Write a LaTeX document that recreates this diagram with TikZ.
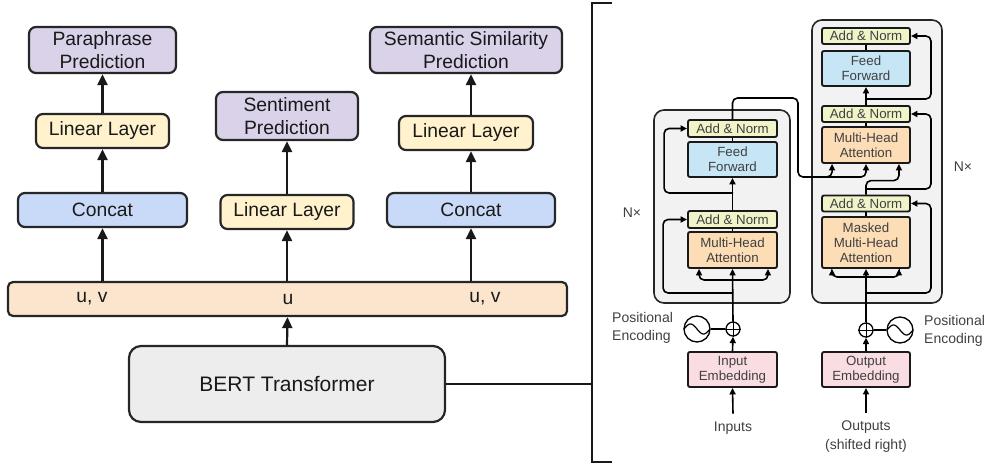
\documentclass[tikz,border=0pt]{standalone}
\usepackage{fontspec}
\setmainfont{Liberation Sans}
\usetikzlibrary{arrows.meta,calc}
\definecolor{cpurple}{HTML}{D9D2E9}
\definecolor{cyellow}{HTML}{FFF2CC}
\definecolor{cblue}{HTML}{C9DAF8}
\definecolor{corange}{HTML}{FCE5CD}
\definecolor{cgray}{HTML}{EDEDED}
\definecolor{cbg}{HTML}{F2F2F2}
\definecolor{can}{HTML}{F0F4C8}
\definecolor{cff}{HTML}{C6E6F5}
\definecolor{cmha}{HTML}{FCDDB6}
\definecolor{cemb}{HTML}{FADDE2}
\definecolor{ctxt}{HTML}{404040}
\begin{document}
\begin{tikzpicture}[x=1pt,y=-1pt,
  lbox/.style={draw=black!85, line width=2.2pt, rounded corners=7pt, inner sep=0pt, align=center,
    font=\fontsize{19.3}{22.5}\selectfont, text=black!90},
  larr/.style={-{Triangle[length=11pt,width=10pt]}, line width=2.2pt, draw=black!90},
  tbox/.style={draw=black!90, line width=1.9pt, rounded corners=2pt, inner sep=0pt, align=center,
    font=\fontsize{13.3}{15}\selectfont, text=ctxt},
  tarr/.style={-{Triangle[length=6.5pt,width=6pt]}, line width=1.6pt},
  tln/.style={line width=1.6pt},
  tline/.style={line width=1.6pt, rounded corners=5pt},
  tlab/.style={font=\fontsize{14}{18}\selectfont, text=ctxt, inner sep=0pt},
  uvt/.style={font=\fontsize{19.3}{22}\selectfont, text=black!90, inner sep=0pt},
]
\useasboundingbox (0,0) rectangle (988,466);

% ---------------- left part ----------------
\node[lbox, fill=cpurple, minimum width=147pt, minimum height=46pt] (para) at (102.5,50) {Paraphrase\\Prediction};
\node[lbox, fill=cyellow, minimum width=133pt, minimum height=34pt] (linL) at (102.5,131) {Linear Layer};
\node[lbox, fill=cblue, minimum width=169pt, minimum height=34pt] (catL) at (102.5,210) {Concat};
\node[lbox, fill=cpurple, minimum width=142pt, minimum height=48pt] (sent) at (287,116) {Sentiment\\Prediction};
\node[lbox, fill=cyellow, minimum width=133pt, minimum height=34pt] (linM) at (287,212) {Linear Layer};
\node[lbox, fill=cpurple, minimum width=192pt, minimum height=46pt] (sem) at (466,50) {Semantic Similarity\\Prediction};
\node[lbox, fill=cyellow, minimum width=134pt, minimum height=34pt] (linR) at (466,133) {Linear Layer};
\node[lbox, fill=cblue, minimum width=168pt, minimum height=34pt] (catR) at (471,210) {Concat};
\node[lbox, fill=corange, minimum width=559pt, minimum height=34pt, rounded corners=5pt] (bar) at (287.5,299) {};
\node[uvt] (uv1) at (92,299) {u, v};
\node[uvt] (u2) at (288,299) {u};
\node[uvt] (uv3) at (485,299) {u, v};
\node[lbox, fill=cgray, minimum width=316pt, minimum height=76pt, rounded corners=12pt,
  font=\fontsize{21}{24}\selectfont] (bert) at (287,384) {BERT Transformer};

\draw[larr] (bar.north -| catL.south) -- (catL.south);
\draw[larr] (catL.north) -- (linL.south);
\draw[larr] (linL.north) -- (para.south);
\draw[larr] (bar.north -| linM.south) -- (linM.south);
\draw[larr] (linM.north) -- (sent.south);
\draw[larr] (bar.north -| catR.south) -- (catR.south);
\draw[larr] (catR.north) -- (catR.north |- linR.south);
\draw[larr] (catR.north |- linR.north) -- (catR.north |- sem.south);
\draw[larr] (bert.north) -- (bar.south);
\coordinate (brk) at (592,384);
\coordinate (brkT) at (612,3);
\coordinate (brkB) at (612,462);
\draw[line width=2.2pt, black!90] (bert.east) -- (brk);
\draw[line width=2.2pt, black!90] (brkT) -- (592,3) -- (592,462) -- (brkB);

% ---------------- encoder ----------------
\node[draw=black!85, line width=1.6pt, fill=cbg, rounded corners=10pt, minimum width=136pt,
  minimum height=193pt, inner sep=0pt] (encbox) at (722,206.5) {};
\node[tbox, fill=can, minimum width=89pt, minimum height=17pt] (eAN2) at (732.5,128.5) {Add \& Norm};
\node[tbox, fill=cff, minimum width=89pt, minimum height=35pt] (eFF) at (732.5,159.5) {Feed\\Forward};
\node[tbox, fill=can, minimum width=89pt, minimum height=17pt] (eAN1) at (732.5,219.5) {Add \& Norm};
\node[tbox, fill=cmha, minimum width=89pt, minimum height=36pt] (eMHA) at (732.5,250) {Multi-Head\\Attention};
\node[tbox, fill=cemb, minimum width=89pt, minimum height=35pt] (eEmb) at (732.5,369.5) {Input\\Embedding};
\node[circle, draw, line width=1.3pt, minimum size=14pt, inner sep=0pt] (eplus) at (733,329) {};
\draw[line width=1pt] (eplus.north) -- (eplus.south) (eplus.west) -- (eplus.east);
\node[circle, draw, line width=1.3pt, minimum size=26pt, inner sep=0pt] (esin) at (697,329) {};
\draw[line width=1.2pt, shift={(esin.center)}] plot[domain=-1:1, samples=40, smooth] ({\x*13},{-5*sin((\x+1)*180)});
\node[tlab, anchor=west, align=left] (peL) at (612,328) {Positional\\Encoding};
\node[tlab] (inputs) at (733,428) {Inputs};
\node[tlab] (nL) at (632,213) {N×};

\coordinate (ej1) at (733,280);
\coordinate (ej2) at (733,293);
\coordinate (ej3) at (733,193);
\coordinate (eout) at (798,98);
\coordinate (eout2) at (798,177);
\coordinate (eout3) at (815,177);

\draw[tarr] ([yshift=8pt]inputs.north) -- (eEmb.south);
\draw[tarr] (eEmb.north) -- (eplus.south);
\draw[line width=1.3pt] (esin.east) -- (eplus.west);
\draw[tarr] (eplus.north) -- (eMHA.south);
\draw[tarr, tline] (ej1) -| ([xshift=12pt]eMHA.south west);
\draw[tarr, tline] (ej1) -| ([xshift=-10pt]eMHA.south east);
\draw[tarr, tline] (ej2) -| ([xshift=-24pt]eAN1.west) -- (eAN1.west);
\draw[tln] (eMHA.north) -- (eAN1.south);
\draw[tarr] (eAN1.north) -- (eFF.south);
\draw[tarr, tline] (ej3) -| ([xshift=-23pt]eAN2.west) -- (eAN2.west);
\draw[tln] (eFF.north) -- (eAN2.south);

% ---------------- decoder ----------------
\node[draw=black!85, line width=1.6pt, fill=cbg, rounded corners=10pt, minimum width=130pt,
  minimum height=283pt, inner sep=0pt] (decbox) at (877,161.5) {};
\node[tbox, fill=can, minimum width=88pt, minimum height=16pt] (dAN3) at (866,36) {Add \& Norm};
\node[tbox, fill=cff, minimum width=88pt, minimum height=35pt] (dFF) at (866,68.5) {Feed\\Forward};
\node[tbox, fill=can, minimum width=88pt, minimum height=16pt] (dAN2) at (866,114) {Add \& Norm};
\node[tbox, fill=cmha, minimum width=88pt, minimum height=36pt] (dMHA) at (866,145) {Multi-Head\\Attention};
\node[tbox, fill=can, minimum width=88pt, minimum height=16pt] (dAN1) at (866,203.5) {Add \& Norm};
\node[tbox, fill=cmha, minimum width=88pt, minimum height=51pt] (dMMHA) at (866,242.5) {Masked\\Multi-Head\\Attention};
\node[tbox, fill=cemb, minimum width=88pt, minimum height=35pt] (dEmb) at (866,369.5) {Output\\Embedding};
\node[circle, draw, line width=1.3pt, minimum size=14pt, inner sep=0pt] (dplus) at (866,330) {};
\draw[line width=1pt] (dplus.north) -- (dplus.south) (dplus.west) -- (dplus.east);
\node[circle, draw, line width=1.3pt, minimum size=26pt, inner sep=0pt] (dsin) at (900,330) {};
\draw[line width=1.2pt, shift={(dsin.center)}] plot[domain=-1:1, samples=40, smooth] ({\x*13},{-5*sin((\x+1)*180)});
\node[tlab, anchor=west, align=left] (peR) at (924,331) {Positional\\Encoding};
\node[tlab, align=center, font=\fontsize{14}{19}\selectfont] (outputs) at (866,437) {Outputs\\(shifted right)};
\node[tlab] (nR) at (963,167) {N×};

\coordinate (dj1) at (866,277);
\coordinate (dj2) at (866,293);
\coordinate (dj3) at (866,189);
\coordinate (dj4) at (866,99);

\draw[tarr] ([yshift=8pt]outputs.north) -- (dEmb.south);
\draw[tarr] (dEmb.north) -- (dplus.south);
\draw[line width=1.3pt] (dsin.west) -- (dplus.east);
\draw[tarr] (dplus.north) -- (dMMHA.south);
\draw[tarr, tline] (dj1) -| ([xshift=11pt]dMMHA.south west);
\draw[tarr, tline] (dj1) -| ([xshift=-12pt]dMMHA.south east);
\draw[tarr, tline] (dj2) -| ([xshift=20pt]dAN1.east) -- (dAN1.east);
\draw[tln] (dMMHA.north) -- (dAN1.south);
\draw[tarr, tline] (dAN1.north) -- ([yshift=14pt]dAN1.north) -| ([xshift=-12pt]dMHA.south east);
\draw[tarr, tline] (dj3) -| ([xshift=20pt]dAN2.east) -- (dAN2.east);
\draw[tln] (dMHA.north) -- (dAN2.south);
\draw[tarr] (dAN2.north) -- (dFF.south);
\draw[tarr, tline] (dj4) -| ([xshift=20pt]dAN3.east) -- (dAN3.east);
\draw[tln] (dFF.north) -- (dAN3.south);

% encoder output into decoder
\draw[tarr, tline] (eAN2.north) |- (eout) -- (eout2) -| (dMHA.south);
\draw[tarr, tline] (eout3) -| ([xshift=11pt]dMHA.south west);
\end{tikzpicture}
\end{document}
